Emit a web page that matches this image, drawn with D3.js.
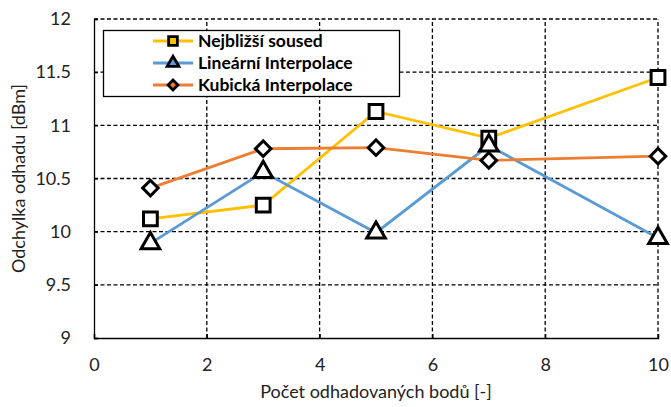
<!DOCTYPE html>
<html>
<head>
<meta charset="utf-8">
<script src="https://cdn.jsdelivr.net/npm/d3@7"></script>
<style>
  body { margin: 0; background: #fff; }
  text { font-family: Lato, "Open Sans", "Liberation Sans", sans-serif; }
</style>
</head>
<body>
<script>
'use strict';

// data
const xValues = [1, 3, 5, 7, 10];
const nejblizsi = [10.12, 10.25, 11.13, 10.88, 11.45];
const linearni = [9.89, 10.56, 9.99, 10.81, 9.94];
const kubicka = [10.41, 10.78, 10.79, 10.67, 10.71];
const seriesNames = ["Nejbližší soused", "Lineární Interpolace", "Kubická Interpolace"];
const xTicks = [0, 2, 4, 6, 8, 10];
const yTicks = [9, 9.5, 10, 10.5, 11, 11.5, 12];

const width = 671;
const height = 407;

const svg = d3.select('body')
  .append('svg')
  .attr('width', width)
  .attr('height', height);

const xScale = d3.scaleLinear().domain([0, 10]).range([94, 658]);
const yScale = d3.scaleLinear().domain([9, 12]).range([338, 19]);

// dashed grid
svg.append("g")
  .selectAll("line")
  .data(yTicks.filter(d => d > 9))
  .enter().append("line")
    .attr("x1", xScale(0)).attr("x2", xScale(10))
    .attr("y1", d => yScale(d)).attr("y2", d => yScale(d))
    .attr("stroke", "#000").attr("stroke-width", 1.3)
    .attr("stroke-dasharray", "4,2.5");

svg.append("g")
  .selectAll("line")
  .data(xTicks.filter(d => d > 0))
  .enter().append("line")
    .attr("x1", d => xScale(d)).attr("x2", d => xScale(d))
    .attr("y1", yScale(9)).attr("y2", yScale(12))
    .attr("stroke", "#000").attr("stroke-width", 1.3)
    .attr("stroke-dasharray", "4,2.5");

// axes
const xAxis = d3.axisBottom(xScale).tickValues(xTicks).tickSize(-4).tickPadding(20);
const yAxis = d3.axisLeft(yScale).tickValues(yTicks).tickSize(-4).tickPadding(23)
  .tickFormat(d => String(d));

const gx = svg.append("g")
  .attr("transform", "translate(0," + yScale(9) + ")")
  .call(xAxis);
const gy = svg.append("g")
  .attr("transform", "translate(" + xScale(0) + ",0)")
  .call(yAxis);

[gx, gy].forEach(g => {
  g.select(".domain").attr("stroke", "#000").attr("stroke-width", 1.3);
  g.selectAll(".tick line").attr("stroke", "#000").attr("stroke-width", 1.3);
  g.selectAll(".tick text").attr("fill", "#222").style("font-size", "18px")
    .style("font-family", "Lato, 'Open Sans', 'Liberation Sans', sans-serif");
});

// axis titles
svg.append("text")
  .attr("x", (xScale(0) + xScale(10)) / 2)
  .attr("y", 398)
  .attr("text-anchor", "middle")
  .attr("fill", "#222")
  .style("font-size", "18px")
  .text("Počet odhadovaných bodů [-]");

svg.append("text")
  .attr("transform", "rotate(-90)")
  .attr("x", -(yScale(9) + yScale(12)) / 2)
  .attr("y", 25)
  .attr("text-anchor", "middle")
  .attr("fill", "#222")
  .style("font-size", "18px")
  .text("Odchylka  odhadu [dBm]");

// series; diamond is a square turned by 45 degrees
const series = [
  { name: seriesNames[0], values: nejblizsi, color: "#FFC000", symbol: d3.symbolSquare, size: 190, rot: 0 },
  { name: seriesNames[1], values: linearni, color: "#5B9BD5", symbol: d3.symbolTriangle, size: 150, rot: 0 },
  { name: seriesNames[2], values: kubicka, color: "#ED7D31", symbol: d3.symbolSquare, size: 120, rot: 45 }
];

const line = d3.line()
  .x(d => xScale(d[0]))
  .y(d => yScale(d[1]));

series.forEach(s => {
  const pts = xValues.map((x, i) => [x, s.values[i]]);
  svg.append("path")
    .datum(pts)
    .attr("fill", "none")
    .attr("stroke", s.color)
    .attr("stroke-width", 2.8)
    .attr("d", line);

  svg.append("g")
    .selectAll("path")
    .data(pts)
    .enter().append("path")
      .attr("transform", d => "translate(" + xScale(d[0]) + "," + yScale(d[1]) + ") rotate(" + s.rot + ")")
      .attr("d", d3.symbol().type(s.symbol).size(s.size))
      .attr("fill", "#fff")
      .attr("stroke", "#000")
      .attr("stroke-width", 3);
});

// legend
const legend = svg.append("g");
legend.append("rect")
  .attr("x", 103.5).attr("y", 30.5)
  .attr("width", 296).attr("height", 66)
  .attr("fill", "#fff")
  .attr("stroke", "#000").attr("stroke-width", 1.3);

series.forEach((s, i) => {
  const cy = 41 + i * 22;
  legend.append("line")
    .attr("x1", 153).attr("x2", 193)
    .attr("y1", cy).attr("y2", cy)
    .attr("stroke", s.color).attr("stroke-width", 2.8);
  legend.append("path")
    .attr("transform", "translate(173," + cy + ") rotate(" + s.rot + ")")
    .attr("d", d3.symbol().type(s.symbol).size(s.size * 0.4))
    .attr("fill", s.color)
    .attr("stroke", "#000")
    .attr("stroke-width", 2.8);
  legend.append("text")
    .attr("x", 198)
    .attr("y", cy + 6)
    .attr("fill", "#000")
    .style("font-size", "17.5px")
    .style("font-weight", "bold")
    .text(s.name);
});
</script>
</body>
</html>
